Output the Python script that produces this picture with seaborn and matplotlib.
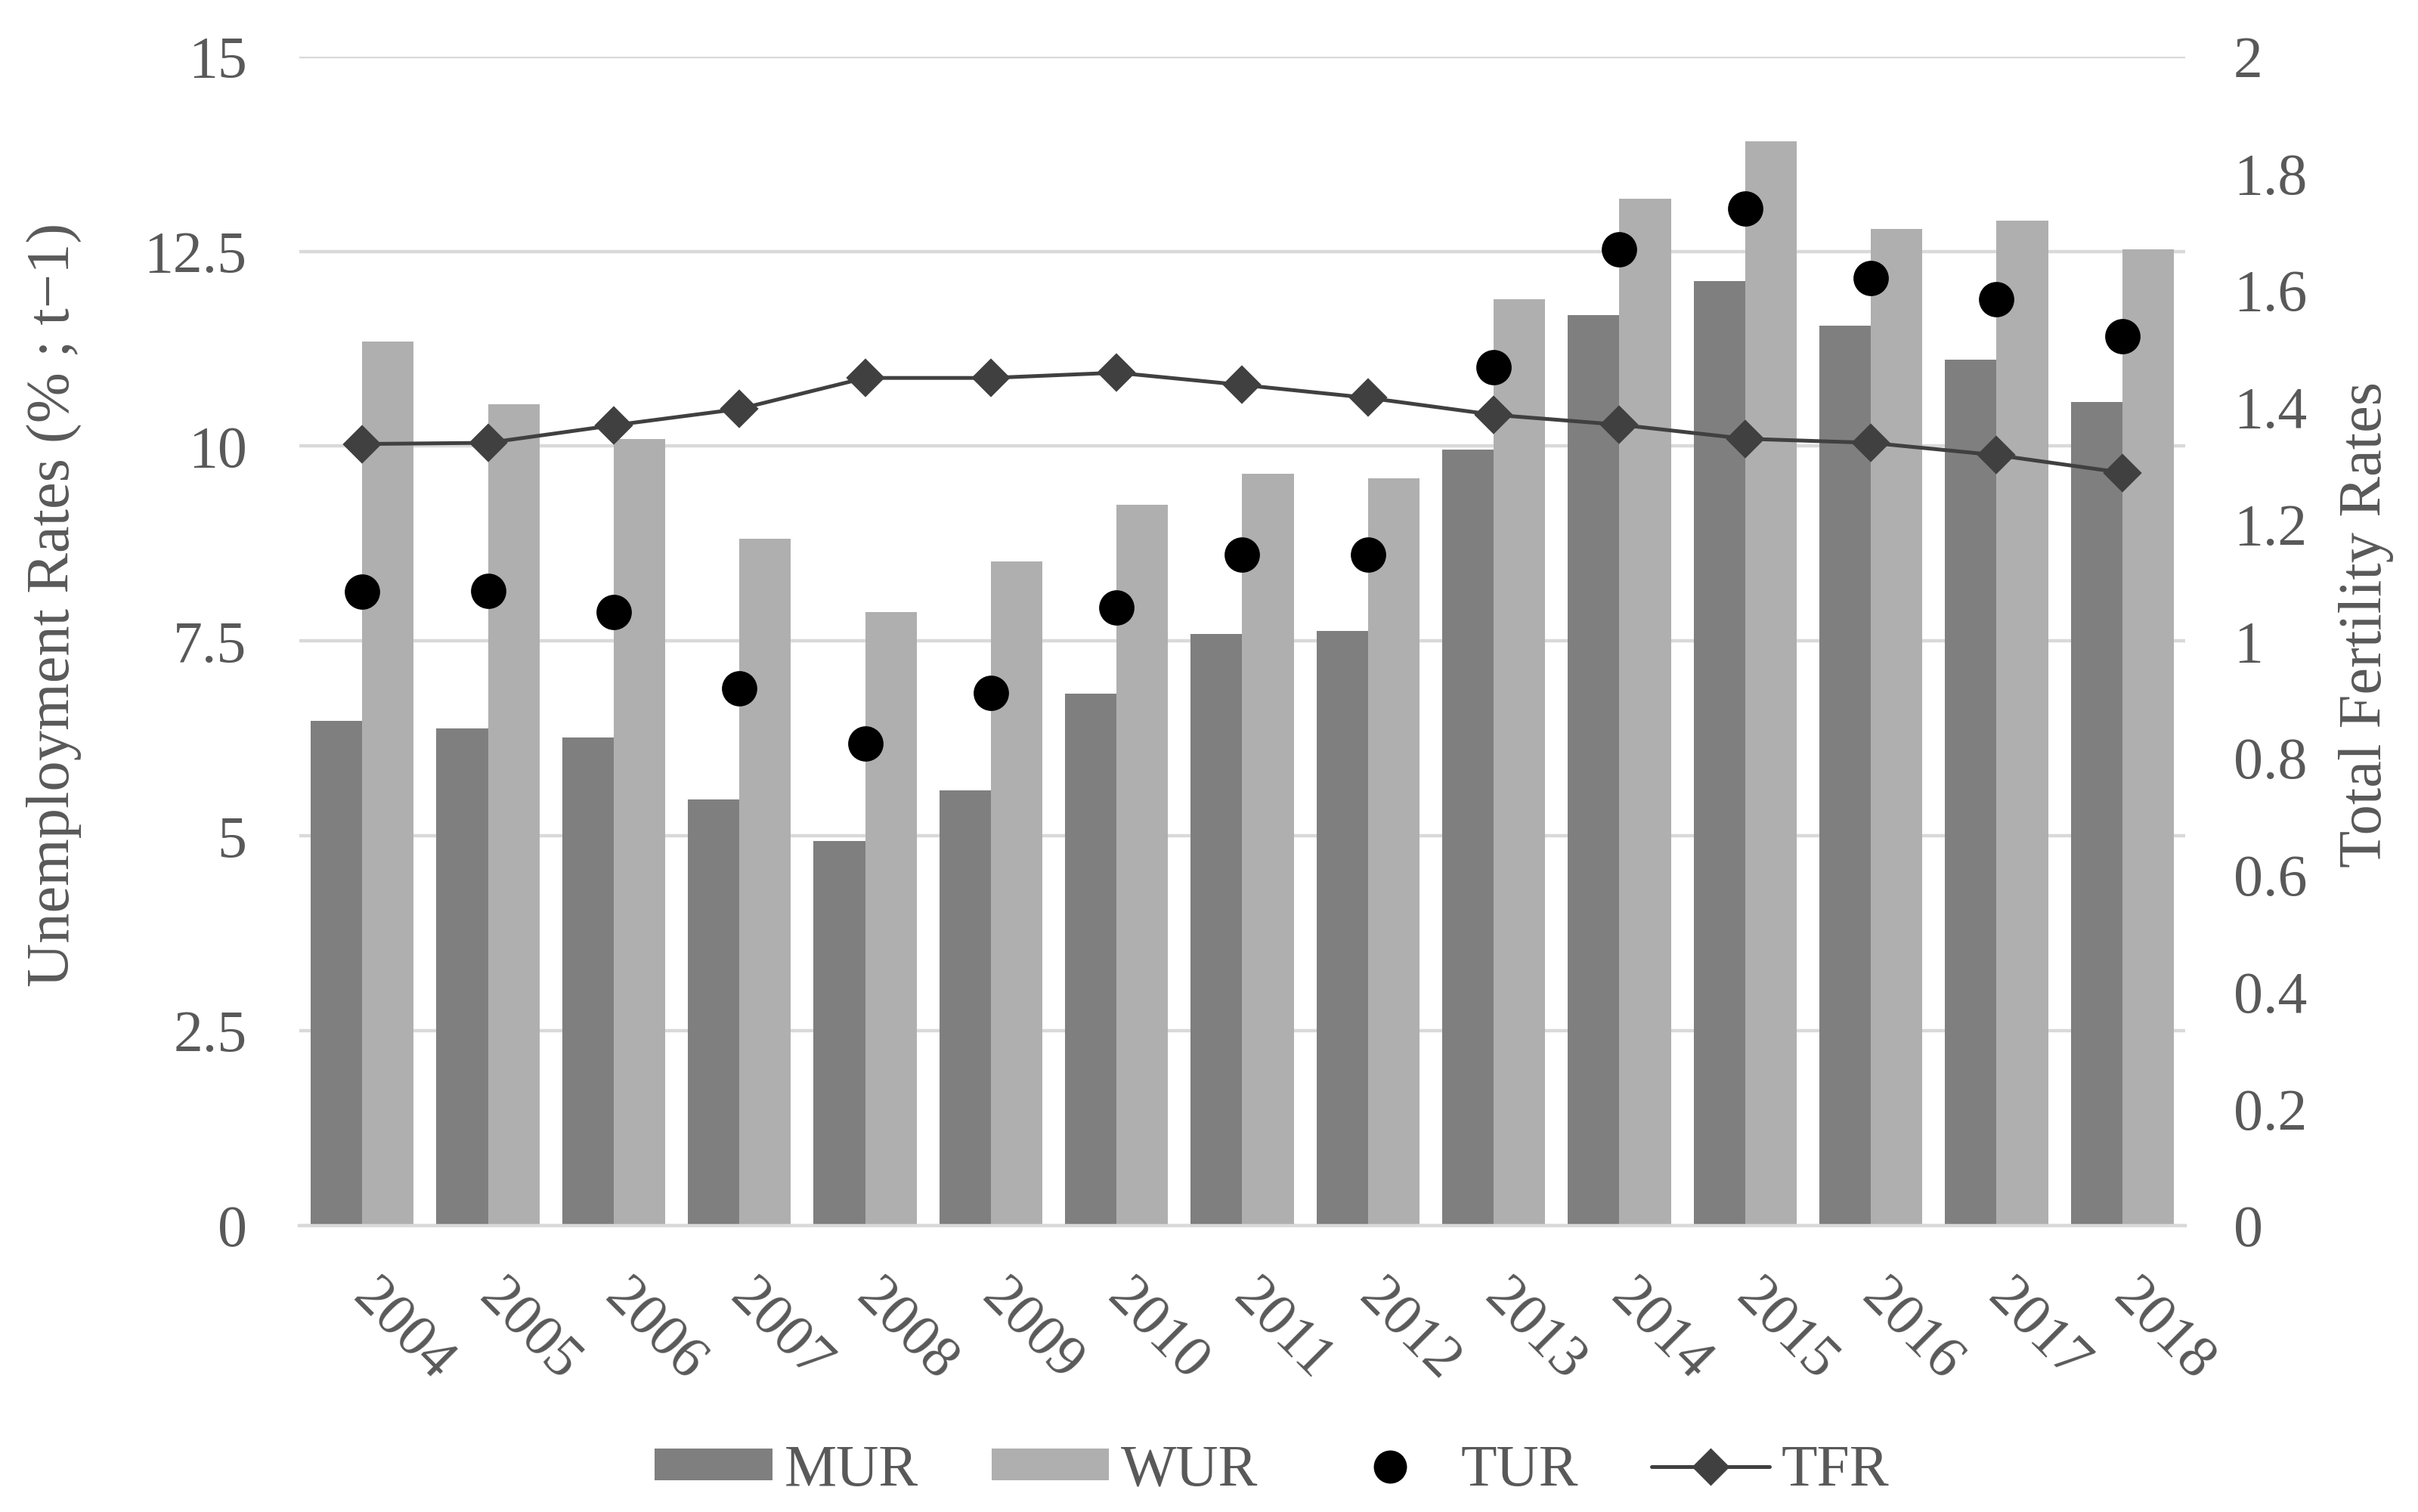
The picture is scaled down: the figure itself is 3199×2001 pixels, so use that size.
import numpy as np
import pandas as pd
import matplotlib
matplotlib.use('Agg')
import matplotlib.pyplot as plt
import seaborn as sns
from matplotlib.lines import Line2D
from matplotlib.patches import Patch
from matplotlib.transforms import ScaledTranslation

years = [str(y) for y in range(2004, 2019)]
mur = [6.48, 6.38, 6.26, 5.47, 4.93, 5.58, 6.82, 7.59, 7.63, 9.96, 11.68, 12.12, 11.55, 11.11, 10.57]
wur = [11.34, 10.54, 10.09, 8.81, 7.87, 8.52, 9.25, 9.65, 9.59, 11.88, 13.17, 13.91, 12.79, 12.89, 12.52]
tur = [8.13, 8.14, 7.87, 6.89, 6.18, 6.83, 7.93, 8.61, 8.61, 11.01, 12.52, 13.05, 12.16, 11.88, 11.41]
tfr = [1.337, 1.339, 1.369, 1.397, 1.450, 1.450, 1.459, 1.438, 1.416, 1.387, 1.370, 1.346, 1.339, 1.318, 1.288]

left_ticks = [0, 2.5, 5, 7.5, 10, 12.5, 15]
right_ticks = [0, 0.2, 0.4, 0.6, 0.8, 1, 1.2, 1.4, 1.6, 1.8, 2]

c_mur, c_wur = '#7f7f7f', '#afafaf'
c_tfr = '#404040'
c_text = '#595959'
c_grid = '#d9d9d9'

sns.set_style('white')
plt.rcParams['font.family'] = ['Liberation Serif', 'DejaVu Serif']

bars = pd.DataFrame({'year': years * 2,
                     'rate': mur + wur,
                     'series': ['MUR'] * len(years) + ['WUR'] * len(years)})
pts = pd.DataFrame({'year': years, 'TUR': tur, 'TFR': tfr})

fig, ax = plt.subplots(figsize=(15.995, 10.005), dpi=200)
fig.subplots_adjust(left=0.1238, right=0.9037, top=0.9627, bottom=0.1894)

ax.set_axisbelow(True)
ax.yaxis.grid(True, color=c_grid, linewidth=1.6)
sns.barplot(data=bars, x='year', y='rate', hue='series', order=years,
            palette={'MUR': c_mur, 'WUR': c_wur}, width=0.82, gap=0,
            saturation=1, linewidth=0, legend=False, ax=ax)
sns.pointplot(data=pts, x='year', y='TUR', order=years, color='black',
              markers='o', linestyle='none', errorbar=None,
              markersize=14.8, ax=ax)

ax2 = ax.twinx()
sns.pointplot(data=pts, x='year', y='TFR', order=years, color=c_tfr,
              markers='D', errorbar=None, markersize=11.5,
              linewidth=1.8, ax=ax2)

ax.set_xlim(-0.5, len(years) - 0.5)
ax.set_ylim(0, 15)
ax2.set_ylim(0, 2)
ax.set_yticks(left_ticks)
ax.set_yticklabels(['%g' % t for t in left_ticks])
ax2.set_yticks(right_ticks)
ax2.set_yticklabels(['%g' % t for t in right_ticks])

for a in (ax, ax2):
    for s in a.spines.values():
        s.set_visible(False)
    a.tick_params(length=0, labelsize=28, labelcolor=c_text)
ax.spines['bottom'].set_visible(True)
ax.spines['bottom'].set_color(c_grid)
ax.spines['bottom'].set_linewidth(1.6)
ax.tick_params(axis='y', pad=25)
ax2.tick_params(axis='y', pad=23)
ax.tick_params(axis='x', pad=21)

ax.set_xticks(range(len(years)))
ax.set_xticklabels(years, rotation=-45, ha='left', rotation_mode='anchor')
for lab in ax.get_xticklabels():
    lab.set_transform(lab.get_transform() + ScaledTranslation(0.12, 0, fig.dpi_scale_trans))

ax.set_xlabel('')
ax.set_ylabel('Unemployment Rates (% ; t\u22121)', fontsize=29, color=c_text)
ax2.set_ylabel('Total Fertility Rates', fontsize=29, color=c_text)
ax.yaxis.label.set_va('center')
ax2.yaxis.label.set_va('center')
ax.yaxis.set_label_coords(-0.130, 0.531)
ax2.yaxis.set_label_coords(1.096, 0.514)

handles = [Patch(facecolor=c_mur, edgecolor='none'),
           Patch(facecolor=c_wur, edgecolor='none'),
           Line2D([], [], linestyle='none', marker='o', color='black', markersize=14.8),
           Line2D([], [], color=c_tfr, marker='D', markersize=11.5, linewidth=1.8)]
leg = fig.legend(handles, ['MUR', 'WUR', 'TUR', 'TFR'], loc='center',
                 bbox_to_anchor=(0.526, 0.027), ncol=4, frameon=False,
                 fontsize=28, handlelength=2, handleheight=0.47,
                 handletextpad=0.2, columnspacing=1.25)
for t in leg.get_texts():
    t.set_color(c_text)

fig.savefig('out.png', dpi=200)
